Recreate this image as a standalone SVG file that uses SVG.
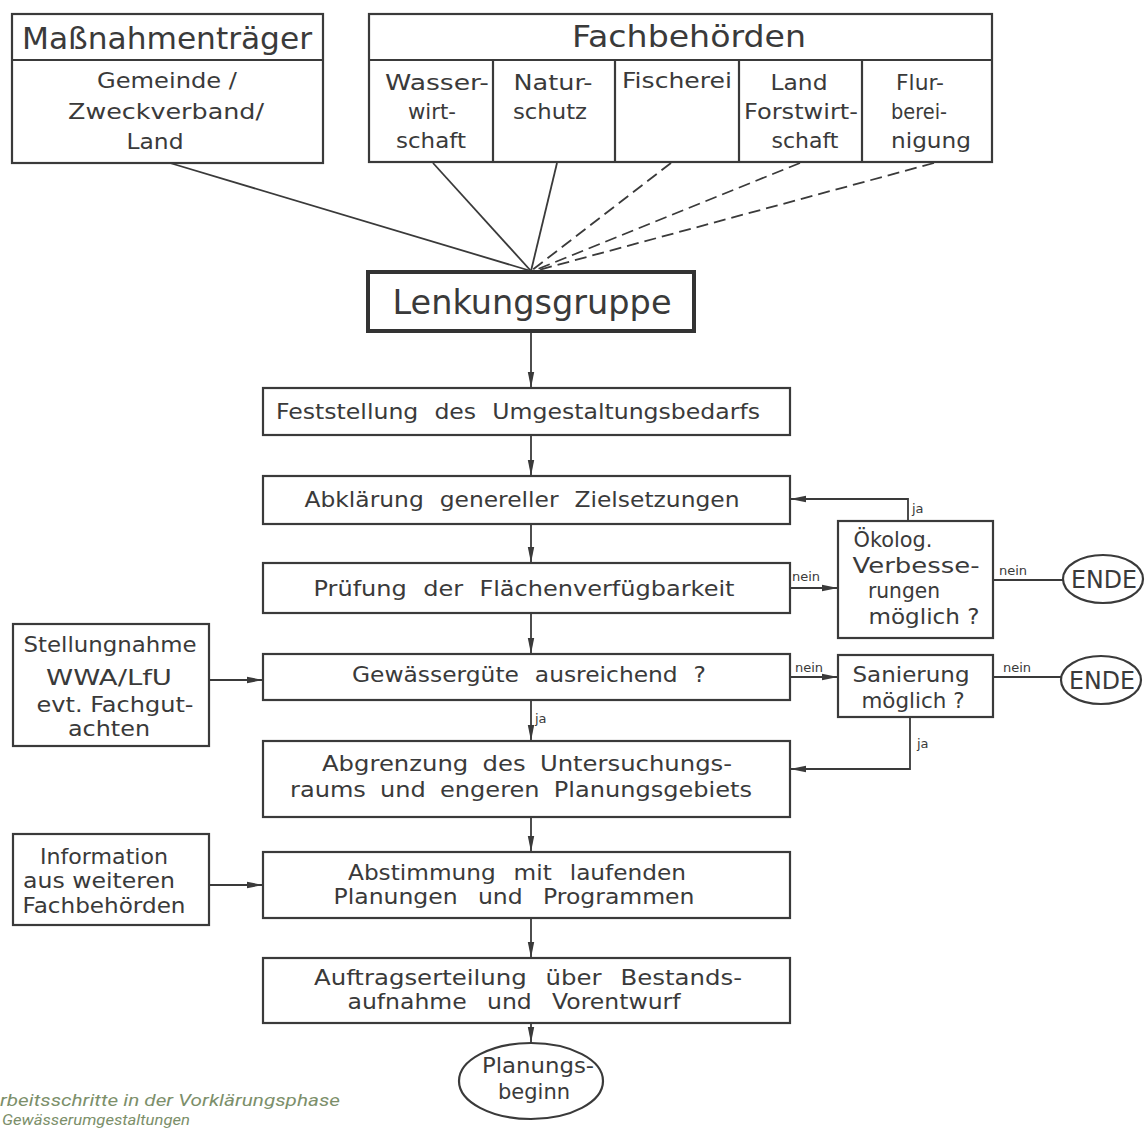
<svg xmlns="http://www.w3.org/2000/svg" width="1147" height="1130" viewBox="0 0 1147 1130">
<defs>
<marker id="ah" viewBox="0 0 16 8" refX="16" refY="4" markerWidth="16" markerHeight="8" markerUnits="userSpaceOnUse" orient="auto">
<path d="M0,0.8 L16,4 L0,7.2 Z" fill="#3a3a3a"/>
</marker>
</defs>
<style>
rect.n,ellipse{fill:#fff;stroke:#3a3a3a;stroke-width:2.2}
line,polyline{stroke:#3a3a3a;stroke-width:1.8;fill:none}
.d{stroke-dasharray:12 6}
text{font-family:"DejaVu Sans","Liberation Sans",sans-serif;fill:#3a3a3a;text-anchor:middle}
.t{font-size:31px}
.m{font-size:21px}
.b{font-size:22px}
.s{font-size:13px;text-anchor:start}
.cap{font-family:Roboto,"Liberation Sans",sans-serif;font-style:italic;font-size:17px;fill:#7c8f6a;text-anchor:start}
</style>
<rect width="1147" height="1130" fill="#fff"/>

<g id="connectors">
<line x1="170" y1="163" x2="531" y2="271"/>
<line x1="433" y1="163" x2="531" y2="271"/>
<line x1="557" y1="163" x2="531" y2="271"/>
<line class="d" x1="671" y1="163" x2="531" y2="271"/>
<line class="d" x1="800" y1="163" x2="533" y2="271"/>
<line class="d" x1="934" y1="163" x2="535" y2="271"/>
<line x1="531" y1="331" x2="531" y2="388" marker-end="url(#ah)"/>
<line x1="531" y1="435" x2="531" y2="476" marker-end="url(#ah)"/>
<line x1="531" y1="524" x2="531" y2="563" marker-end="url(#ah)"/>
<line x1="531" y1="613" x2="531" y2="654" marker-end="url(#ah)"/>
<line x1="531" y1="700" x2="531" y2="741" marker-end="url(#ah)"/>
<line x1="531" y1="817" x2="531" y2="852" marker-end="url(#ah)"/>
<line x1="531" y1="918" x2="531" y2="958" marker-end="url(#ah)"/>
<line x1="531" y1="1023" x2="531" y2="1043" marker-end="url(#ah)"/>
<polyline points="908,521 908,499 790,499" marker-end="url(#ah)"/>
<line x1="790" y1="588" x2="838" y2="588" marker-end="url(#ah)"/>
<line x1="993" y1="580" x2="1063" y2="580"/>
<line x1="790" y1="677" x2="838" y2="677" marker-end="url(#ah)"/>
<line x1="993" y1="677" x2="1061" y2="677"/>
<polyline points="910,717 910,769 790,769" marker-end="url(#ah)"/>
<line x1="209" y1="680" x2="263" y2="680" marker-end="url(#ah)"/>
<line x1="209" y1="885" x2="263" y2="885" marker-end="url(#ah)"/>
<text class="s" x="912" y="513">ja</text>
<text class="s" x="792" y="581">nein</text>
<text class="s" x="999" y="575">nein</text>
<text class="s" x="795" y="672">nein</text>
<text class="s" x="1003" y="672">nein</text>
<text class="s" x="535" y="723">ja</text>
<text class="s" x="917" y="748">ja</text>
</g>

<g id="massnahmentraeger">
<rect class="n" x="12" y="14" width="311" height="149"/>
<line x1="12" y1="60" x2="323" y2="60" style="stroke-width:2.2"/>
<text class="t" x="167" y="49" textLength="290" lengthAdjust="spacingAndGlyphs">Maßnahmenträger</text>
<text class="m" x="167" y="88" textLength="140" lengthAdjust="spacingAndGlyphs">Gemeinde /</text>
<text class="m" x="166" y="119" textLength="196" lengthAdjust="spacingAndGlyphs">Zweckverband/</text>
<text class="m" x="155" y="149" textLength="57" lengthAdjust="spacingAndGlyphs">Land</text>
</g>

<g id="fachbehoerden">
<rect class="n" x="369" y="14" width="623" height="148"/>
<line x1="369" y1="60" x2="992" y2="60" style="stroke-width:2.2"/>
<line x1="493" y1="60" x2="493" y2="162" style="stroke-width:2.2"/>
<line x1="615" y1="60" x2="615" y2="162" style="stroke-width:2.2"/>
<line x1="739" y1="60" x2="739" y2="162" style="stroke-width:2.2"/>
<line x1="862" y1="60" x2="862" y2="162" style="stroke-width:2.2"/>
<text class="t" x="689" y="47" textLength="234" lengthAdjust="spacingAndGlyphs">Fachbehörden</text>
</g>
<g id="wasserwirtschaft">
<text class="m" x="437" y="90" textLength="104" lengthAdjust="spacingAndGlyphs">Wasser-</text>
<text class="m" x="432" y="119" textLength="48" lengthAdjust="spacingAndGlyphs">wirt-</text>
<text class="m" x="431" y="148" textLength="70" lengthAdjust="spacingAndGlyphs">schaft</text>
</g>
<g id="naturschutz">
<text class="m" x="553" y="90" textLength="79" lengthAdjust="spacingAndGlyphs">Natur-</text>
<text class="m" x="550" y="119" textLength="74" lengthAdjust="spacingAndGlyphs">schutz</text>
</g>
<g id="fischerei">
<text class="m" x="677" y="88" textLength="110" lengthAdjust="spacingAndGlyphs">Fischerei</text>
</g>
<g id="forstwirtschaft">
<text class="m" x="799" y="90" textLength="57" lengthAdjust="spacingAndGlyphs">Land</text>
<text class="m" x="801" y="119" textLength="114" lengthAdjust="spacingAndGlyphs">Forstwirt-</text>
<text class="m" x="805" y="148" textLength="67" lengthAdjust="spacingAndGlyphs">schaft</text>
</g>
<g id="flurbereinigung">
<text class="m" x="920" y="90" textLength="48" lengthAdjust="spacingAndGlyphs">Flur-</text>
<text class="m" x="919" y="119" textLength="56" lengthAdjust="spacingAndGlyphs">berei-</text>
<text class="m" x="931" y="148" textLength="80" lengthAdjust="spacingAndGlyphs">nigung</text>
</g>

<g id="lenkungsgruppe">
<rect class="n" x="368" y="272" width="326" height="59" style="stroke-width:4;stroke:#333"/>
<text x="532" y="314" style="font-size:33px" textLength="279" lengthAdjust="spacingAndGlyphs">Lenkungsgruppe</text>
</g>

<g id="feststellung">
<rect class="n" x="263" y="388" width="527" height="47"/>
<text class="b" x="518" y="419" textLength="484" lengthAdjust="spacingAndGlyphs" word-spacing="8">Feststellung des Umgestaltungsbedarfs</text>
</g>
<g id="abklaerung">
<rect class="n" x="263" y="476" width="527" height="48"/>
<text class="b" x="522" y="507" textLength="435" lengthAdjust="spacingAndGlyphs" word-spacing="8">Abklärung genereller Zielsetzungen</text>
</g>
<g id="pruefung">
<rect class="n" x="263" y="563" width="527" height="50"/>
<text class="b" x="524" y="596" textLength="421" lengthAdjust="spacingAndGlyphs" word-spacing="8">Prüfung der Flächenverfügbarkeit</text>
</g>
<g id="gewaesserguete">
<rect class="n" x="263" y="654" width="527" height="46"/>
<text class="b" x="529" y="682" textLength="354" lengthAdjust="spacingAndGlyphs" word-spacing="8">Gewässergüte ausreichend ?</text>
</g>
<g id="abgrenzung">
<rect class="n" x="263" y="741" width="527" height="76"/>
<text class="b" x="527" y="771" textLength="410" lengthAdjust="spacingAndGlyphs" word-spacing="6">Abgrenzung des Untersuchungs-</text>
<text class="b" x="521" y="797" textLength="462" lengthAdjust="spacingAndGlyphs" word-spacing="6">raums und engeren Planungsgebiets</text>
</g>
<g id="abstimmung">
<rect class="n" x="263" y="852" width="527" height="66"/>
<text class="b" x="517" y="880" textLength="338" lengthAdjust="spacingAndGlyphs" word-spacing="10">Abstimmung mit laufenden</text>
<text class="b" x="514" y="904" textLength="361" lengthAdjust="spacingAndGlyphs" word-spacing="12">Planungen und Programmen</text>
</g>
<g id="auftragserteilung">
<rect class="n" x="263" y="958" width="527" height="65"/>
<text class="b" x="528" y="985" textLength="428" lengthAdjust="spacingAndGlyphs" word-spacing="10">Auftragserteilung über Bestands-</text>
<text class="b" x="514" y="1009" textLength="333" lengthAdjust="spacingAndGlyphs" word-spacing="12">aufnahme und Vorentwurf</text>
</g>
<g id="planungsbeginn">
<ellipse cx="531" cy="1081" rx="72" ry="38"/>
<text class="m" x="538" y="1073" textLength="112" lengthAdjust="spacingAndGlyphs">Planungs-</text>
<text class="m" x="534" y="1099" textLength="72" lengthAdjust="spacingAndGlyphs">beginn</text>
</g>

<g id="oekolog">
<rect class="n" x="838" y="521" width="155" height="117"/>
<text class="m" x="893" y="547" textLength="79" lengthAdjust="spacingAndGlyphs">Ökolog.</text>
<text class="m" x="916" y="573" textLength="127" lengthAdjust="spacingAndGlyphs">Verbesse-</text>
<text class="m" x="904" y="598" textLength="72" lengthAdjust="spacingAndGlyphs">rungen</text>
<text class="m" x="924" y="624" textLength="111" lengthAdjust="spacingAndGlyphs">möglich ?</text>
</g>
<g id="ende1">
<ellipse cx="1103" cy="579" rx="40" ry="24"/>
<text x="1104" y="588" style="font-size:24px" textLength="66" lengthAdjust="spacingAndGlyphs">ENDE</text>
</g>
<g id="sanierung">
<rect class="n" x="838" y="655" width="155" height="62"/>
<text class="m" x="911" y="682" textLength="117" lengthAdjust="spacingAndGlyphs">Sanierung</text>
<text class="m" x="913" y="708" textLength="103" lengthAdjust="spacingAndGlyphs">möglich ?</text>
</g>
<g id="ende2">
<ellipse cx="1101" cy="680" rx="40" ry="24"/>
<text x="1102" y="689" style="font-size:24px" textLength="66" lengthAdjust="spacingAndGlyphs">ENDE</text>
</g>

<g id="stellungnahme">
<rect class="n" x="13" y="624" width="196" height="122"/>
<text class="m" x="110" y="652" textLength="173" lengthAdjust="spacingAndGlyphs">Stellungnahme</text>
<text class="m" x="109" y="685" textLength="126" lengthAdjust="spacingAndGlyphs">WWA/LfU</text>
<text class="m" x="115" y="712" textLength="157" lengthAdjust="spacingAndGlyphs">evt. Fachgut-</text>
<text class="m" x="109" y="736" textLength="82" lengthAdjust="spacingAndGlyphs">achten</text>
</g>
<g id="information">
<rect class="n" x="13" y="834" width="196" height="91"/>
<text class="m" x="104" y="864" textLength="128" lengthAdjust="spacingAndGlyphs">Information</text>
<text class="m" x="99" y="888" textLength="152" lengthAdjust="spacingAndGlyphs">aus weiteren</text>
<text class="m" x="104" y="913" textLength="163" lengthAdjust="spacingAndGlyphs">Fachbehörden</text>
</g>

<g id="caption">
<text class="cap" x="0" y="1106" textLength="340" lengthAdjust="spacingAndGlyphs">rbeitsschritte in der Vorklärungsphase</text>
<text class="cap" x="2" y="1125" style="font-size:14px" textLength="188" lengthAdjust="spacingAndGlyphs">Gewässerumgestaltungen</text>
</g>
</svg>
